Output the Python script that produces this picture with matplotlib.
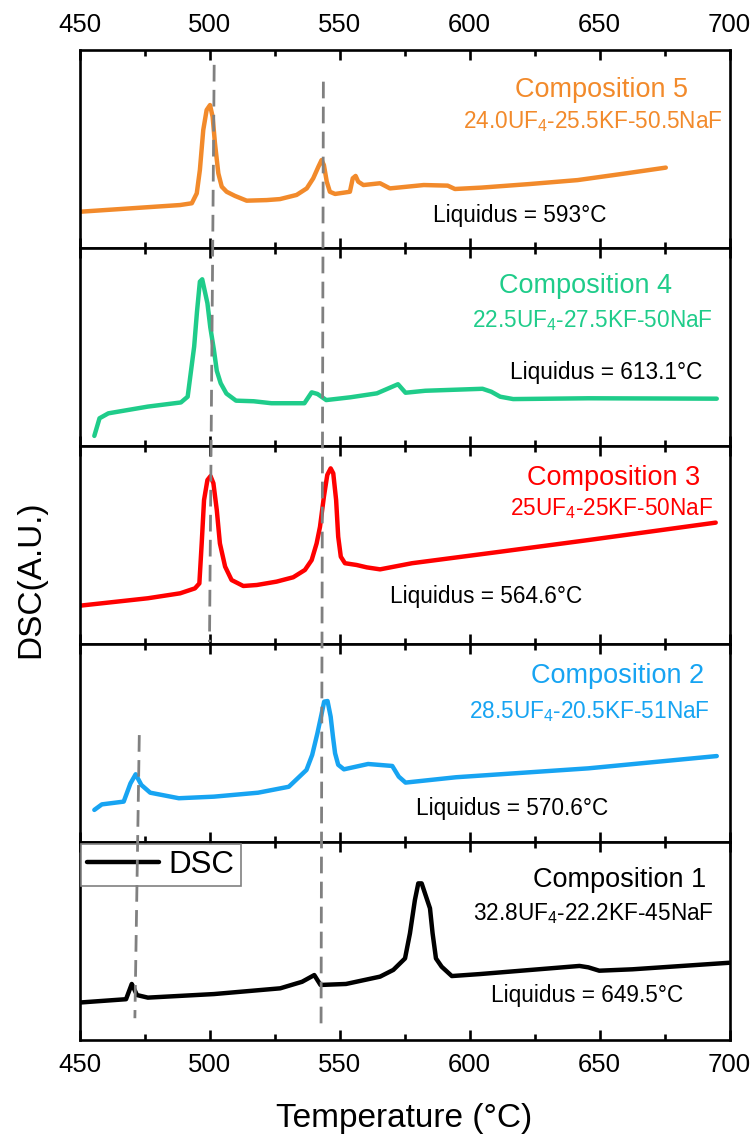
"""
Stacked DSC curves for five UF4-KF-NaF compositions.
"""
import matplotlib
matplotlib.use('Agg')
import matplotlib.pyplot as plt
from matplotlib.ticker import MultipleLocator

plt.rcParams['font.family'] = ['Liberation Sans', 'DejaVu Sans']
plt.rcParams['mathtext.fontset'] = 'custom'
plt.rcParams['mathtext.rm'] = 'Liberation Sans'
plt.rcParams['mathtext.it'] = 'Liberation Sans:italic'

# --- data (temperature in C, DSC signal in arbitrary units, 0-100 per panel) ---
T5 = [450, 488.7, 493.2, 495.1, 496.3, 497.6, 498.9, 500.2, 501.2, 502.1, 503.4, 504.7,
      506.6, 509.8, 514.3, 522, 527.1, 533.5, 537.4, 539.9, 541.9, 543.1, 544, 545.1,
      546.3, 548.3, 554, 555.1, 556.2, 557.2, 559.2, 565.6, 569.4, 582.4, 591.6, 594.4,
      604.6, 623.1, 641.6, 660.2, 675.5]
S5 = [18.3, 21.7, 22.6, 27.6, 39.4, 59.6, 69.7, 72.2, 66.3, 52.9, 37.7, 31,
      28.4, 26.3, 23.9, 24.2, 24.7, 26.8, 30.1, 35.2, 41.1, 44.4, 41.9, 33.5,
      28.4, 27.3, 28.4, 35.2, 36.4, 33.5, 31.8, 32.7, 30.1, 31.8, 31.5, 29.8,
      30.5, 32.3, 34.3, 37.7, 40.6]

T4 = [455.7, 457.7, 461.1, 476.3, 489, 491.6, 494.1, 495.2, 496.3, 497.2, 499.2, 500.3,
      501.7, 502.8, 504.3, 506.5, 510.2, 517, 523.8, 536.5, 539.3, 541.5, 544.9, 554.2,
      564.4, 572.5, 575.4, 583, 605, 608.4, 611.8, 616.8, 645.7, 695.1]
S4 = [5.1, 14, 16.5, 19.9, 22, 24.9, 50.2, 68, 83, 84.2, 72.1, 60,
      48.5, 38, 31.7, 26.5, 22.9, 22.6, 21.6, 21.6, 27.1, 26.3, 23.2, 24.6,
      26.6, 31.2, 26.9, 27.9, 28.9, 27.4, 24.9, 23.7, 24.1, 23.9]

T3 = [449.8, 476.3, 488.7, 494.4, 496.1, 497, 497.9, 499.2, 500.4, 501.5, 502.8, 504,
      506, 508.5, 513, 518.2, 525.8, 532.2, 536.7, 539.3, 541.2, 542.5, 544, 545.3,
      546.6, 547.6, 548.7, 549.5, 550.5, 552.1, 556.6, 560.5, 565.6, 577.9, 611.8, 645.7,
      694.7]
S3 = [19.3, 23.1, 25.6, 28.1, 30.6, 50.8, 72.7, 82.8, 84.8, 81.2, 67.7, 50.8,
      39.1, 32.3, 29.3, 29.8, 31.5, 33.7, 37.4, 42.4, 50.8, 59.2, 74.4, 85.4,
      88.7, 86.2, 72.7, 54.2, 44.1, 40.8, 39.9, 38.7, 37.7, 40.8, 46.6, 52.5,
      61.3]

T2 = [455.7, 458.6, 467, 469.6, 471.6, 473.8, 477.2, 488.2, 501.7, 518.7, 530.5, 537.3,
      539.5, 541.5, 543, 544.1, 545.4, 546.6, 547.5, 548.3, 549.5, 551.7, 561, 570.3,
      572.8, 575.4, 594.8, 645.7, 695.1]
S2 = [16.2, 19, 20.4, 29.6, 34.2, 28.8, 24.9, 22.1, 22.9, 24.9, 27.9, 36.4,
      44, 54.9, 64, 70.9, 71.2, 63.3, 53, 44.8, 39, 36.7, 39.4, 38.4,
      33, 30, 32.7, 37.2, 43.4]

T1 = [449.8, 467.9, 470.1, 472.1, 476.3, 501.7, 527.2, 535.6, 540.3, 542.7, 552.5, 565.6,
      570.7, 575.2, 577.1, 579, 580.3, 581.6, 583.3, 584.8, 585.8, 587.1, 589.3, 593.2,
      604, 642.3, 645.7, 649.9, 662.6, 699.8]
S1 = [18.9, 20.6, 28.3, 22.7, 21.4, 23.2, 26.1, 29.4, 32.8, 27.8, 28.3, 32,
      35.4, 41.2, 53.9, 70.7, 79.1, 79.1, 72.4, 66.5, 53.9, 41.2, 37, 32.3,
      33.3, 37.4, 36.7, 35, 35.7, 39]

temps = [T5, T4, T3, T2, T1]
signals = [S5, S4, S3, S2, S1]
names = ['Composition 5', 'Composition 4', 'Composition 3', 'Composition 2', 'Composition 1']
formulas = [r'24.0UF$_\mathregular{4}$-25.5KF-50.5NaF',
            r'22.5UF$_\mathregular{4}$-27.5KF-50NaF',
            r'25UF$_\mathregular{4}$-25KF-50NaF',
            r'28.5UF$_\mathregular{4}$-20.5KF-51NaF',
            r'32.8UF$_\mathregular{4}$-22.2KF-45NaF']
liquidus = ['593', '613.1', '564.6', '570.6', '649.5']
colors = ['#F28A2B', '#1FCC8A', '#FF0000', '#17A4F2', '#000000']

# guide lines across the stack: (T_top, level_top, T_bottom, level_bottom), 0-100 over whole stack
guides = [(501.8, 98.5, 500.0, 40.2),
          (543.8, 96.8, 542.9, 1.0),
          (473.0, 30.8, 471.3, 2.2)]

# text anchor positions (temperature, level) per panel
title_pos = [(650.8, 76.4), (644.8, 77.1), (655.4, 80.3), (657.1, 80.1), (657.9, 77.4)]
formula_pos = [(647.6, 60.4), (647.3, 59.9), (654.8, 65.2), (646.3, 62.5), (647.5, 60.6)]
liq_pos = [(619.4, 13.3), (652.5, 33.7), (606.3, 20.9), (616.3, 13.6), (645.2, 19.0)]

W, H = 755, 1134
fig = plt.figure(figsize=(W / 100, H / 100), dpi=100)
left, right = 79.5 / W, 729.5 / W
top_px, bot_px = 50, 1040
panel_h = (bot_px - top_px) / 5

axes = []
for i in range(5):
    y0 = 1 - (top_px + (i + 1) * panel_h) / H
    ax = fig.add_axes([left, y0, right - left, panel_h / H])
    axes.append(ax)
    ax.plot(temps[i], signals[i], color=colors[i], lw=3.2, label='DSC',
            solid_joinstyle='round', solid_capstyle='round')
    ax.set_xlim(450, 700)
    ax.set_ylim(0, 100)
    ax.set_yticks([])
    ax.xaxis.set_major_locator(MultipleLocator(50))
    ax.xaxis.set_minor_locator(MultipleLocator(25))
    ax.tick_params(axis='x', which='both', direction='in', top=True, bottom=True,
                   labelbottom=(i == 4), labeltop=(i == 0), labelsize=18.5, pad=9.5)
    ax.tick_params(axis='x', which='major', length=7.5, width=1.9)
    ax.tick_params(axis='x', which='minor', length=4.2, width=1.9)
    for sp in ax.spines.values():
        sp.set_linewidth(1.9)

    ax.text(*title_pos[i], names[i], color=colors[i], fontsize=19.5,
            ha='center', va='baseline')
    ax.text(*formula_pos[i], formulas[i], color=colors[i], fontsize=16.3,
            ha='center', va='baseline')
    ax.text(*liq_pos[i], f'Liquidus = {liquidus[i]}\u00b0C', color='black', fontsize=16.3,
            ha='center', va='baseline')

leg = axes[4].legend(loc='upper left', bbox_to_anchor=(0, 1), borderaxespad=0.05,
                     fontsize=22.5, handlelength=2.3, handletextpad=0.3, borderpad=0.2,
                     fancybox=False, framealpha=1)
leg.get_frame().set_edgecolor('#808080')
leg.get_frame().set_linewidth(1.2)

# overlay for the dashed guide lines spanning all panels
over = fig.add_axes([left, 1 - bot_px / H, right - left, (bot_px - top_px) / H], zorder=10)
over.set_xlim(450, 700)
over.set_ylim(0, 100)
over.axis('off')
over.patch.set_alpha(0)
for t0, l0, t1, l1 in guides:
    over.plot([t0, t1], [l0, l1], color='#808080', lw=2.0, dashes=(6, 3))

fig.text(31 / W, 1 - 579 / H, 'DSC(A.U.)', rotation=90, fontsize=24,
         ha='center', va='center')
fig.text(404.5 / W, 1 - 1127 / H, 'Temperature (\u00b0C)', fontsize=24,
         ha='center', va='baseline')

fig.savefig('out.png', dpi=100)
